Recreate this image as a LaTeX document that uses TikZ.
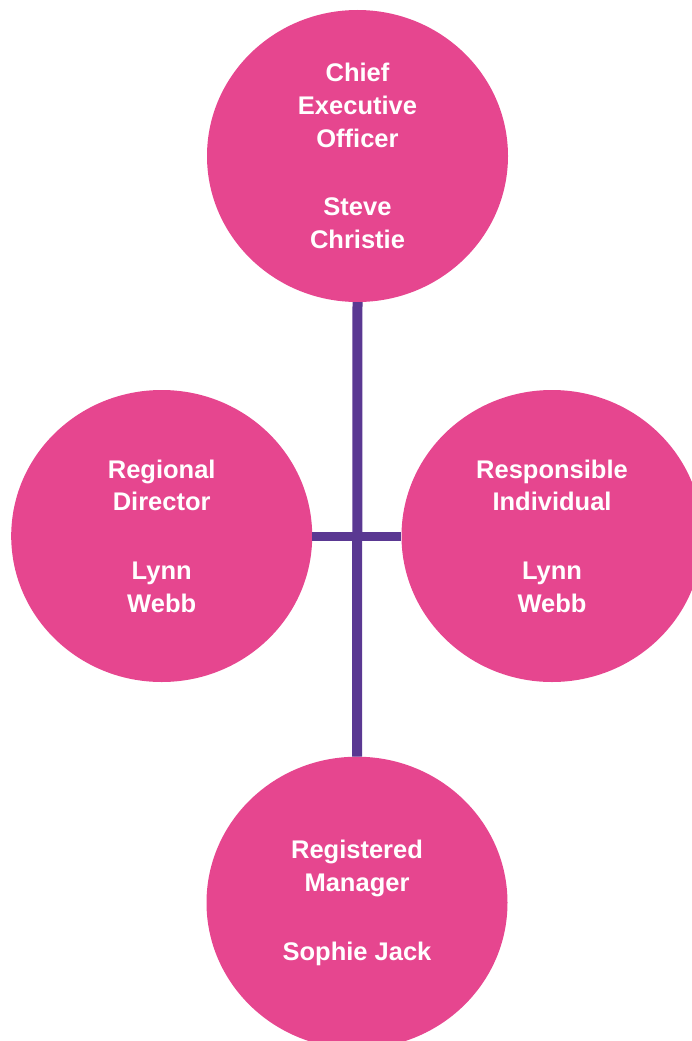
\documentclass[tikz,border=0pt]{standalone}
\usepackage{fontspec}
\setmainfont{Liberation Sans}
\usetikzlibrary{shapes.geometric}
\definecolor{orgpink}{RGB}{230,70,143}
\definecolor{orgpurple}{RGB}{90,56,146}

\begin{document}
\begin{tikzpicture}[x=1pt,y=1pt,
	role/.style={ellipse,fill=orgpink,minimum width=301pt,minimum height=292pt,inner sep=0pt,
		text=white,align=center,font=\fontsize{25.5}{32.7}\selectfont\bfseries},
	link/.style={orgpurple,line width=10pt}]
	\useasboundingbox (0,0) rectangle (692,-1041);
	\clip (0,0) rectangle (692,-1041);

	\node[role] (ceo) at (357.5,-156) {Chief\\Executive\\Officer\\[36pt]Steve\\Christie};
	\node[role] (rd) at (161.7,-536) {Regional\\Director\\[36pt]Lynn\\Webb};
	\node[role] (ri) at (552,-536) {Responsible\\Individual\\[36pt]Lynn\\Webb};
	\node[role] (rm) at (357,-902.7) {Registered\\Manager\\[36pt]Sophie Jack};

	\draw[link] (ceo.south) -- (rm.north); % vertical
	\draw[link,line width=9pt] (rd.east) -- (ri.west); % cross bar
\end{tikzpicture}
\end{document}
